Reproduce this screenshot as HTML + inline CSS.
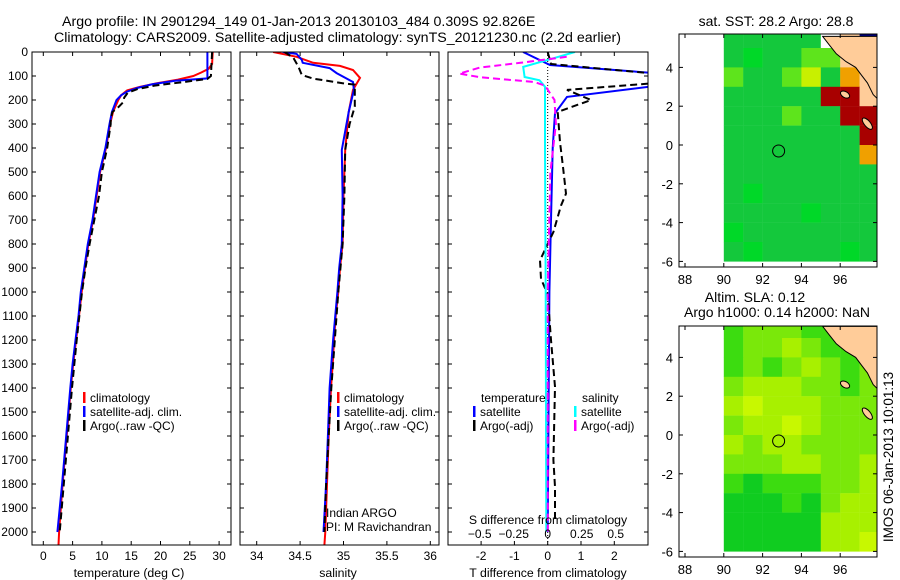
<!DOCTYPE html>
<html><head><meta charset="utf-8"><style>
html,body{margin:0;padding:0;background:#fff;}
svg{display:block;font-family:"Liberation Sans",sans-serif;}
</style></head><body>
<svg id="fig" width="900" height="580" viewBox="0 0 900 580" xmlns="http://www.w3.org/2000/svg">
<text x="62" y="26" font-size="14.2">Argo profile: IN 2901294_149 01-Jan-2013 20130103_484 0.309S 92.826E</text>
<text x="54" y="42" font-size="14.2">Climatology: CARS2009. Satellite-adjusted climatology: synTS_20121230.nc (2.2d earlier)</text>
<g id="p1"></g>
<g id="p2"></g>
<g id="p3"></g>
<g id="m1"></g>
<g id="m2"></g>
<text transform="translate(893,457) rotate(-90)" font-size="13.5" text-anchor="middle">IMOS 06-Jan-2013 10:01:13</text>
</svg>
<script>
// ---- data ----
const tClimD = [0,50,70,85,100,115,130,145,160,180,200,250,300,400,500,600,700,800,900,1000,1100,1200,1300,1400,1600,1800,2000,2054];
const tClimV = [28.9,28.8,28.2,27,25.6,23,19.4,16.5,14.3,13.3,12.8,11.9,11.4,10.7,9.7,9.1,8.5,7.7,7.1,6.55,6.1,5.6,5.1,4.7,4.0,3.3,2.7,2.6];
const tSatD = [0,110,120,135,150,165,180,200,250,300,400,500,600,700,800,900,1000,1100,1200,1300,1400,1600,1800,2000];
const tSatV = [28.0,28.0,22.5,18.5,16,14.3,13.3,12.5,11.7,11.3,10.6,9.6,9.0,8.4,7.6,7.0,6.4,6.0,5.5,5.0,4.6,3.9,3.2,2.4];
const tArgoD = [0,100,112,125,140,155,170,190,210,230,250,280,300,400,500,600,700,800,900,1000,1200,1400,1600,1800,2000];
const tArgoV = [28.8,28.6,28.0,24,19,16,14.4,13.8,13.6,12.8,11.8,11.5,11.5,10.9,10.0,9.5,8.7,7.9,7.2,6.6,5.7,4.9,4.2,3.5,2.8];
const sClimD = [0,20,45,58,75,108,158,250,408,600,800,900,1000,1100,1200,1300,1400,1600,1800,2000,2054];
const sClimV = [34.19,34.46,34.65,34.96,35.11,35.19,35.11,35.06,35.02,35.0,34.99,34.96,34.94,34.91,34.89,34.876,34.856,34.83,34.81,34.79,34.78];
const sSatD = [0,8,33,45,67,88,125,158,250,408,600,800,900,1000,1200,1400,1600,1800,2000];
const sSatV = [34.3,34.46,34.52,34.53,34.84,34.92,35.11,35.12,35.06,34.98,34.99,34.98,34.95,34.93,34.88,34.84,34.82,34.8,34.77];
const sArgoD = [0,23,61,96,111,130,136,228,300,408,600,800,1000,1200,1400,1600,1800,2000];
const sArgoV = [34.32,34.42,34.48,34.52,34.65,34.99,35.13,35.13,35.07,35.02,35.01,34.99,34.94,34.9,34.86,34.83,34.8,34.78];
const dTSatD = [0,54,88,142,187,255,400,700,1000,1400,2000];
const dTSatV = [-0.74,0.07,3.2,3.2,0.58,0.22,0.15,0.1,0.05,0.03,0.0];
const dTArgoD = [0,50,90,130,158,200,250,375,479,590,640,750,868,945,1010,1200,1395,1700,1812,1950];
const dTArgoV = [0.0,0.1,3.2,3.2,0.58,1.3,0.3,0.37,0.46,0.55,0.4,0.17,-0.23,-0.2,0.0,0.1,0.22,0.17,0.22,0.22];
const dSSatD = [0,33,62,104,118,145,400,1000,2000];
const dSSatV = [0.2,0.0,-0.18,-0.17,-0.06,-0.02,-0.02,-0.015,-0.01];
const dSArgoD = [20,45,65,90,105,125,140,200,300,500,1000,2000];
const dSArgoV = [0.14,-0.2,-0.5,-0.65,-0.5,-0.1,-0.02,0.05,0.06,0.02,0.0,0.0];
// maps (1-degree cells, lon 90..98, rows lat 5..-7 top to bottom)
const sstRows = [
 "gggggwLb","gGggyyLL","yggyYgOL","gggggrrL","gggyggrr","gggggggr","gggggggO","gggggggg","gGgggggg","ggggGggg","Gggggggg","gGggggGg"];
const slaRows = [
 "ABBBAAAA","ABBCBAAB","ABABCBAB","BCCCBBAB","CDCCCBBB","BCCDCBBB","CBCCBBBB","BBBCCBBC","AEAAABBC","EEEAEBCC","EEEEECCC","EEEEECCD"];
const cellColors = {g:"#14c83c",G:"#00d828",y:"#5ee41c",Y:"#c8f000",r:"#a80000",o:"#c04000",O:"#f0a000",w:"#ffffff",b:"#000080",L:"#ffcc99",
 A:"#3cdc10",B:"#7ae80a",C:"#a8f000",D:"#c8f800",E:"#10cc20"};
const coastLon = [95.1,95.4,95.8,96.3,96.8,97.1,97.4,97.7,97.9,97.9];
const coastLat = [5.6,5.2,4.7,4.3,4.0,3.6,3.2,2.6,2.4,5.6];
const argoLon = 92.826, argoLat = -0.309;

const NS="http://www.w3.org/2000/svg";
function mk(parent,tag,attrs){const e=document.createElementNS(NS,tag);for(const k in attrs)e.setAttribute(k,attrs[k]);parent.appendChild(e);return e;}
function txt(parent,x,y,s,anchor,size){const t=mk(parent,"text",{x:x,y:y,"font-size":size||12,"text-anchor":anchor||"start"});t.textContent=s;return t;}

const yD = d => 52 + d*0.24;
function frame(g,x0,x1,y0,y1,name){const r=mk(g,"rect",{x:x0,y:y0,width:x1-x0,height:y1-y0,fill:"none",stroke:"#000","stroke-width":1});}
function depthTicks(g,x0,x1,labels){for(let d=0;d<=2000;d+=100){const y=yD(d);mk(g,"line",{x1:x0,x2:x0+4,y1:y,y2:y,stroke:"#000"});mk(g,"line",{x1:x1-4,x2:x1,y1:y,y2:y,stroke:"#000"});if(labels){const t=txt(g,28,y+4,String(d),"end");}}}
function xTicks(g,vals,fx,y0,y1,labY){vals.forEach(v=>{const x=fx(v);mk(g,"line",{x1:x,x2:x,y1:y1,y2:y1-4,stroke:"#000"});mk(g,"line",{x1:x,x2:x,y1:y0,y2:y0+4,stroke:"#000"});if(labY){const t=txt(g,x,labY,String(v),"middle");}});}
function line(g,D,V,fx,color,dash,name,clip){let pts=D.map((d,i)=>fx(V[i]).toFixed(1)+","+yD(d).toFixed(1)).join(" ");const p=mk(g,"polyline",{points:pts,fill:"none",stroke:color,"stroke-width":2,"stroke-dasharray":dash||"none"});if(clip)p.setAttribute("clip-path",clip);}
function legendEntry(g,x,y,color,label){mk(g,"rect",{x:x,y:y-10,width:2.5,height:11,fill:color});const t=txt(g,x+7,y,label);}

const defs=mk(document.getElementById("fig"),"defs",{});
function clipRect(id,x,y,w,h){const c=mk(defs,"clipPath",{id:id});mk(c,"rect",{x:x,y:y,width:w,height:h});}
clipRect("c1",32,52,199,493);clipRect("c2",240,52,199,493);clipRect("c3",448,52,200,493);
clipRect("cm1",679,34,198,233);clipRect("cm2",679,326,198,231);

// Panel 1 temperature
const p1=document.getElementById("p1");
const fT=v=>43.3+v*5.86;
line(p1,tClimD,tClimV,fT,"#ff0000",null,"climatology-temp-line","url(#c1)");
line(p1,tSatD,tSatV,fT,"#0000ff",null,"satellite-temp-line","url(#c1)");
line(p1,tArgoD,tArgoV,fT,"#000000","7,4","argo-temp-line","url(#c1)");
frame(p1,32,231,52,545,"temperature-axes-frame");depthTicks(p1,32,231,true);
xTicks(p1,[0,5,10,15,20,25,30],fT,52,545,560);
txt(p1,129,577,"temperature (deg C)","middle",12.3);
legendEntry(p1,83,402,"#ff0000","climatology");legendEntry(p1,83,416,"#0000ff","satellite-adj. clim.");legendEntry(p1,83,430,"#000","Argo(..raw -QC)");

// Panel 2 salinity
const p2=document.getElementById("p2");
const fS=v=>256.7+(v-34)*86.8;
line(p2,sClimD,sClimV,fS,"#ff0000",null,"climatology-sal-line","url(#c2)");
line(p2,sSatD,sSatV,fS,"#0000ff",null,"satellite-sal-line","url(#c2)");
line(p2,sArgoD,sArgoV,fS,"#000000","7,4","argo-sal-line","url(#c2)");
frame(p2,240,439,52,545,"salinity-axes-frame");depthTicks(p2,240,439,false);
xTicks(p2,[34,34.5,35,35.5,36],fS,52,545,560);
txt(p2,338,577,"salinity","middle",12.3);
legendEntry(p2,337,402,"#ff0000","climatology");legendEntry(p2,337,416,"#0000ff","satellite-adj. clim.");legendEntry(p2,337,430,"#000","Argo(..raw -QC)");
txt(p2,326,517,"Indian ARGO");
txt(p2,326,531,"PI: M Ravichandran");

// Panel 3 differences
const p3=document.getElementById("p3");
const fdT=v=>547.7+v*33.3, fdS=v=>547.7+v*136;
mk(p3,"line",{x1:547.7,x2:547.7,y1:52,y2:545,stroke:"#000","stroke-dasharray":"1,2"});
line(p3,dTSatD,dTSatV,fdT,"#0000ff",null,"satellite-temp-diff-line","url(#c3)");
line(p3,dTArgoD,dTArgoV,fdT,"#000000","7,4","argo-temp-diff-line","url(#c3)");
line(p3,dSSatD,dSSatV,fdS,"#00ffff",null,"satellite-sal-diff-line","url(#c3)");
line(p3,dSArgoD,dSArgoV,fdS,"#ff00ff","7,4","argo-sal-diff-line","url(#c3)");
frame(p3,448,648,52,545,"difference-axes-frame");depthTicks(p3,448,648,false);
xTicks(p3,[-2,-1,0,1,2],fdT,52,545,560);
[-0.5,-0.25,0,0.25,0.5].forEach(v=>{const t=txt(p3,fdS(v),538,String(v).replace("-","−"),"middle");});
txt(p3,548,524,"S difference from climatology","middle",12.3);
txt(p3,548,577,"T difference from climatology","middle",12.3);
txt(p3,481,402,"temperature");
txt(p3,582,402,"salinity");
legendEntry(p3,473,416,"#0000ff","satellite");legendEntry(p3,473,430,"#000","Argo(-adj)");
legendEntry(p3,574,416,"#00ffff","satellite");legendEntry(p3,574,430,"#ff00ff","Argo(-adj)");

// Maps
function drawMap(g,rows,lat0y,top,bottom,clip,name){
 const fx=lon=>685+(lon-88)*19.4, fy=lat=>lat0y-lat*19.4;
 const cg=mk(g,"g",{"clip-path":clip});
 rows.forEach((row,ri)=>{for(let ci=0;ci<row.length;ci++){const lat=5-ri, lon=90+ci;
  const r=mk(cg,"rect",{x:fx(lon),y:fy(lat+1),width:19.6,height:19.6,fill:cellColors[row[ci]]});
  }});
 const pts=coastLon.map((l,i)=>fx(l).toFixed(1)+","+fy(coastLat[i]).toFixed(1)).join(" ");
 const land=mk(cg,"polygon",{points:pts,fill:"#ffcc99",stroke:"#000","stroke-width":1});
 
 mk(cg,"ellipse",{cx:fx(96.25),cy:fy(2.6),rx:5,ry:3,fill:"#ffcc99",stroke:"#000",transform:`rotate(30 ${fx(96.25)} ${fy(2.6)})`});
 mk(cg,"ellipse",{cx:fx(97.4),cy:fy(1.1),rx:3,ry:7,fill:"#ffcc99",stroke:"#000",transform:`rotate(-40 ${fx(97.4)} ${fy(1.1)})`});
 const c=mk(g,"circle",{cx:fx(argoLon),cy:fy(argoLat),r:6,fill:"none",stroke:"#000","stroke-width":1});
 
 frame(g,679,877,top,bottom,name+"-frame");
 [88,90,92,94,96].forEach(l=>{const x=fx(l);mk(g,"line",{x1:x,x2:x,y1:top,y2:top+4,stroke:"#000"});mk(g,"line",{x1:x,x2:x,y1:bottom,y2:bottom-4,stroke:"#000"});
  const t=txt(g,x,bottom+17,String(l),"middle",13);});
 [4,2,0,-2,-4,-6].forEach(l=>{const y=fy(l);mk(g,"line",{x1:679,x2:683,y1:y,y2:y,stroke:"#000"});mk(g,"line",{x1:873,x2:877,y1:y,y2:y,stroke:"#000"});
  const t=txt(g,673,y+5,String(l),"end",13);});
}
const m1=document.getElementById("m1"), m2=document.getElementById("m2");
drawMap(m1,sstRows,145,34,267,"url(#cm1)","sst-map");
drawMap(m2,slaRows,435,326,557,"url(#cm2)","sla-map");
txt(m1,776,26,"sat. SST: 28.2 Argo: 28.8","middle",14);
txt(m2,755,302,"Altim. SLA: 0.12","middle",14);
txt(m2,777,317,"Argo h1000: 0.14 h2000: NaN","middle",14);
</script>
</body></html>
